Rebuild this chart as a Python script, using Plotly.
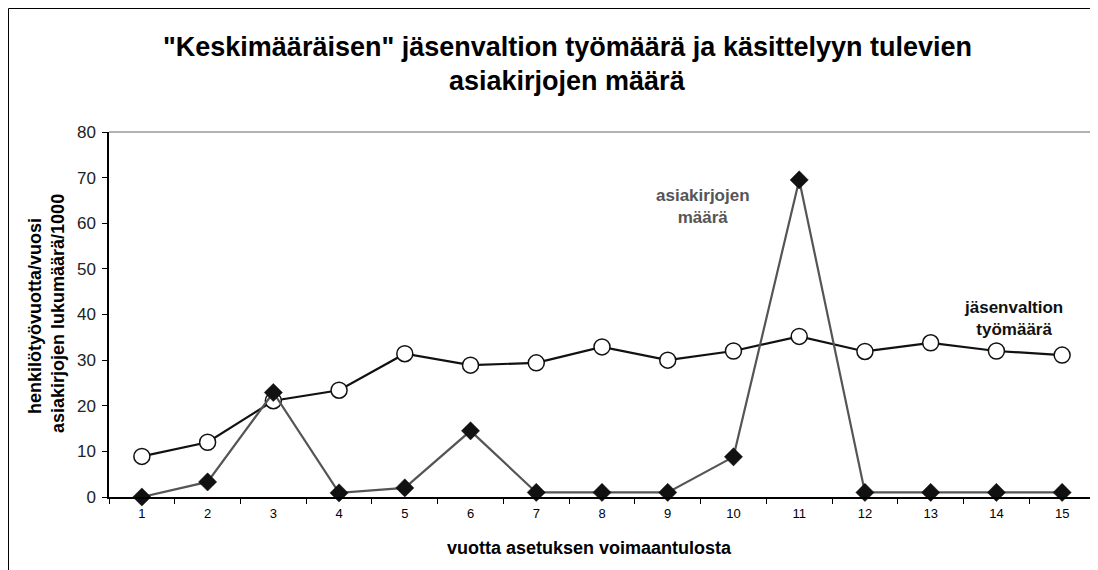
import plotly.graph_objects as go

years = [str(i) for i in range(1, 16)]
workload = [8.9, 12.0, 21.1, 23.4, 31.4, 28.9, 29.4, 32.9, 30.0, 32.0, 35.2, 31.9, 33.8, 32.0, 31.1]
documents = [0.0, 3.3, 22.9, 0.9, 2.0, 14.5, 1.0, 1.0, 1.0, 8.8, 69.5, 1.0, 1.0, 1.0, 1.0]

title_lines = ['"Keskimääräisen" jäsenvaltion työmäärä ja käsittelyyn tulevien', 'asiakirjojen määrä']
ytitle_lines = ['henkilötyövuotta/vuosi', 'asiakirjojen lukumäärä/1000']
xtitle = 'vuotta asetuksen voimaantulosta'

OFF = 8  # page body margin
W, H = 1098 - OFF, 570 - OFF
# plot area in screen pixels
L, R, T, B = 109 - OFF, 1095 - OFF, 132 - OFF, 497 - OFF

def px(x):
    return (x - OFF - L) / (R - L)

def py(y):
    return (B - (y - OFF)) / (B - T)

font = "Liberation Sans, Arial, sans-serif"

fig = go.Figure()
fig.add_trace(go.Scatter(
    x=years, y=workload, mode="lines+markers",
    line=dict(color="#111111", width=2.2),
    marker=dict(symbol="circle", size=16, color="white", line=dict(color="#111111", width=1.5)),
    showlegend=False, cliponaxis=False))
fig.add_trace(go.Scatter(
    x=years, y=documents, mode="lines+markers",
    line=dict(color="#555555", width=2.2),
    marker=dict(symbol="diamond", size=14, color="#111111", line=dict(color="#111111", width=0.5)),
    showlegend=False, cliponaxis=False))

def ann(x, y, text, size, color="black", angle=0):
    return dict(x=px(x), y=py(y), xref="paper", yref="paper", text=text, showarrow=False,
                xanchor="center", yanchor="middle", textangle=angle,
                font=dict(family=font, size=size, color=color))

anns = [
    ann(567, 47, "<b>%s</b>" % title_lines[0], 27),
    ann(567, 81, "<b>%s</b>" % title_lines[1], 27),
    ann(35, 316, "<b>%s</b>" % ytitle_lines[0], 18, angle=-90),
    ann(58, 314, "<b>%s</b>" % ytitle_lines[1], 18, angle=-90),
    ann(589, 548, "<b>%s</b>" % xtitle, 18),
    ann(703, 206, "<b>asiakirjojen<br>määrä</b>", 17, color="#555555"),
    ann(1013, 318, "<b>jäsenvaltion<br>työmäärä</b>", 17, color="#111111"),
]

shapes = [
    dict(type="line", xref="paper", yref="paper", x0=0, x1=1, y0=1, y1=1, line=dict(color="#999999", width=1.5)),
    dict(type="line", xref="paper", yref="paper", x0=1, x1=1, y0=0, y1=1, line=dict(color="#999999", width=1.5)),
    dict(type="line", xref="paper", yref="paper", x0=px(8.5), x1=px(8.5), y0=py(8.5), y1=py(600), line=dict(color="black", width=1)),
    dict(type="line", xref="paper", yref="paper", x0=px(8.5), x1=px(1120), y0=py(8.5), y1=py(8.5), line=dict(color="black", width=1)),
]

fig.update_layout(
    width=W, height=H,
    margin=dict(l=L, r=W - R, t=T, b=H - B),
    paper_bgcolor="white", plot_bgcolor="white",
    font=dict(family=font, color="black"),
    annotations=anns, shapes=shapes,
    xaxis=dict(type="category", range=[-0.5, 14.5], tickson="boundaries", ticks="outside", ticklen=5,
               tickcolor="black", showline=True, linecolor="black", linewidth=1.5, showgrid=False,
               zeroline=False, ticklabelstandoff=4,
               tickfont=dict(size=13, family=font, color="black")),
    yaxis=dict(range=[0, 80], dtick=10, ticks="outside", ticklen=5, tickcolor="black",
               showline=True, linecolor="black", linewidth=1.5, showgrid=False, zeroline=False,
               ticklabelstandoff=3,
               tickfont=dict(size=17, family=font, color="#222222")),
)

fig.write_html("out.html")
